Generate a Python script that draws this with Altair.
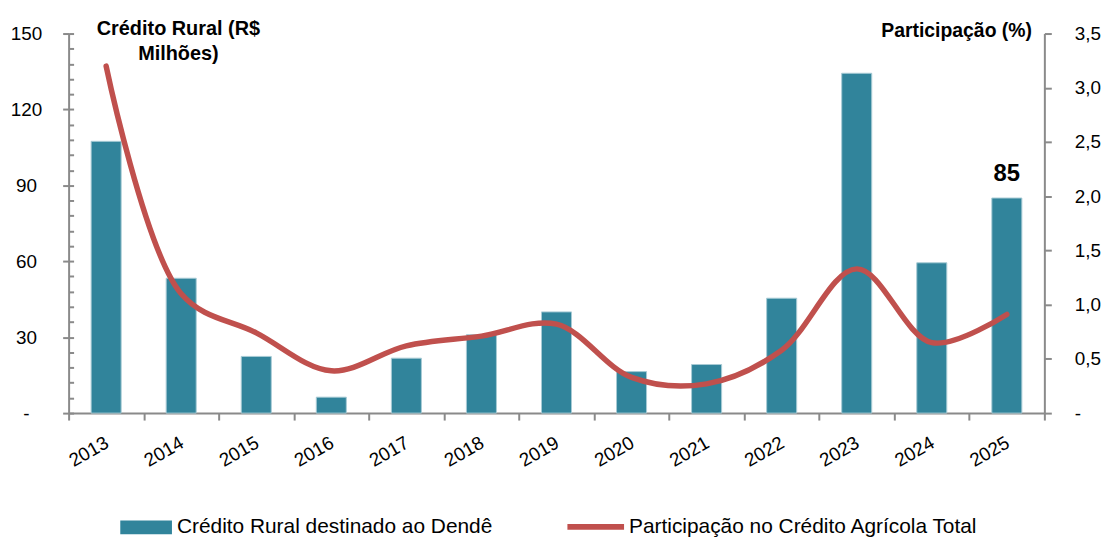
import altair as alt
import pandas as pd

anos = ["2013", "2014", "2015", "2016", "2017", "2018", "2019",
        "2020", "2021", "2022", "2023", "2024", "2025"]
credito = [107.4, 53.3, 22.4, 6.3, 21.7, 31.0, 40.0, 16.4, 19.2, 45.4, 134.3, 59.4, 85.0]
participacao = [3.20, 1.10, 0.74, 0.39, 0.62, 0.71, 0.82, 0.33, 0.27, 0.58, 1.33, 0.65, 0.91]
serie_barra = "Crédito Rural destinado ao Dendê"
serie_linha = "Participação no Crédito Agrícola Total"
left_ticks = [0, 30, 60, 90, 120, 150]
minor_ticks = list(range(0, 151, 6))
right_ticks = [0, 0.5, 1.0, 1.5, 2.0, 2.5, 3.0, 3.5]

df = pd.DataFrame({
    "ano": anos,
    "credito": credito,
    "participacao": participacao,
    "serie_barra": [serie_barra] * len(anos),
    "serie_linha": [serie_linha] * len(anos),
    "rotulo": [""] * (len(anos) - 1) + ["85"],
})

FONT = "Liberation Sans, Arial"
BAR = "#31849B"
LINE = "#C0504D"
AXC = "#8a8a8a"

x_enc = alt.X(
    "ano:N",
    sort=anos,
    title=None,
    scale=alt.Scale(paddingInner=0, paddingOuter=0),
    axis=alt.Axis(
        tickBand="extent", labelAngle=-30, labelAlign="right", labelBaseline="top",
        labelFont=FONT, labelFontSize=19, labelColor="black", labelPadding=13,
        labelOffset=-4,
        tickSize=7, tickColor=AXC, tickWidth=2, domainColor=AXC, domainWidth=2,
        grid=False,
    ),
)

ysc = alt.Scale(domain=[0, 150], nice=False, zero=True)

bars = alt.Chart(df).mark_bar(
    width=alt.RelativeBandSize(0.4), stroke="#a7cbd5", strokeWidth=1
).encode(
    x=x_enc,
    y=alt.Y(
        "credito:Q", scale=ysc,
        axis=alt.Axis(
            values=left_ticks, title=["Crédito Rural (R$", "Milhões)"],
            titleAngle=0, titleAlign="center", titleBaseline="alphabetic",
            titleX=110, titleY=1, titleFont=FONT, titleFontSize=20,
            titleFontWeight="bold", titleColor="black", titleLineHeight=25,
            labelExpr="datum.value == 0 ? '-' : datum.label",
            labelFont=FONT, labelFontSize=19, labelColor="black",
            labelAlign="center", labelBaseline="middle", labelPadding=37,
            tickSize=6, tickColor=AXC, tickWidth=2, domainColor=AXC, domainWidth=2,
            grid=False, orient="left",
        ),
    ),
    fill=alt.Fill(
        "serie_barra:N",
        scale=alt.Scale(domain=[serie_barra], range=[BAR]),
        legend=alt.Legend(
            title=None, orient="none", legendX=52, legendY=471,
            symbolType="M-1,-0.27H1V0.27H-1Z", symbolSize=2704,
            symbolStrokeWidth=0, labelFont=FONT, labelFontSize=21,
            labelColor="black", labelLimit=600, labelOffset=5, padding=0,
        ),
    ),
)

minor = alt.Chart(df).mark_bar(opacity=0).encode(
    x=x_enc,
    y=alt.Y(
        "credito:Q", scale=ysc,
        axis=alt.Axis(
            values=minor_ticks, labels=False, domain=False, title=None,
            tickSize=5, tickColor=AXC, tickWidth=2, offset=-5, grid=False,
            orient="left",
        ),
    ),
)

label85 = alt.Chart(df).mark_text(
    font=FONT, fontSize=24, fontWeight="bold", color="black",
    baseline="alphabetic", dy=-17,
).encode(
    x=x_enc,
    y=alt.Y("credito:Q", scale=ysc, axis=None),
    text="rotulo:N",
)

left = alt.layer(bars, minor, label85).resolve_axis(y="independent")

line = alt.Chart(df).mark_line(
    interpolate="catmull-rom", strokeWidth=5.5, strokeCap="round"
).encode(
    x=x_enc,
    y=alt.Y(
        "participacao:Q",
        scale=alt.Scale(domain=[0, 3.5], nice=False),
        axis=alt.Axis(
            values=right_ticks, orient="right", title="Participação (%)",
            titleAngle=0, titleAlign="right", titleBaseline="alphabetic",
            titleX=-13, titleY=3, titleFont=FONT, titleFontSize=19.5,
            titleFontWeight="bold", titleColor="black",
            labelExpr="datum.value == 0 ? '-' : replace(format(datum.value, '.1f'), '.', ',')",
            labelFont=FONT, labelFontSize=19, labelColor="black",
            labelAlign="left", labelBaseline="middle", labelPadding=23,
            tickSize=7, tickColor=AXC, tickWidth=2, domainColor=AXC, domainWidth=2,
            grid=False,
        ),
    ),
    stroke=alt.Stroke(
        "serie_linha:N",
        scale=alt.Scale(domain=[serie_linha], range=[LINE]),
        legend=alt.Legend(
            title=None, orient="none", legendX=499, legendY=465,
            symbolType="stroke", symbolSize=3249, symbolStrokeWidth=6,
            labelFont=FONT, labelFontSize=21, labelColor="black",
            labelLimit=600, labelOffset=2, padding=0,
        ),
    ),
)

chart = alt.layer(left, line).resolve_scale(
    y="independent"
).properties(
    width=982, height=382,
    padding={"left": 2, "top": 9, "right": 0, "bottom": 0},
).configure_view(stroke=None)

chart.save("out.html", embed_options={"renderer": "svg", "actions": False})
